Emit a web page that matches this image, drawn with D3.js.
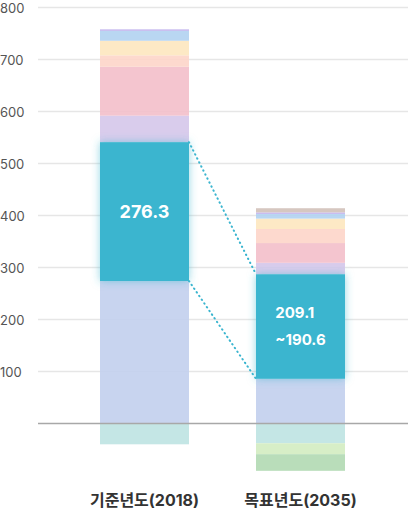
<!DOCTYPE html>
<html>
  <head>
    <meta charset="utf-8">
    <title>Stacked emissions chart</title>
    <style>
      body { margin: 0; background: #fff; }
      svg { display: block; font-family: Inter, "Noto Sans CJK KR", "Noto Sans", sans-serif; }
      .grid line { stroke: #e6e6e6; stroke-width: 1.5; }
      .tick-label { fill: #555; font-size: 13px; }
      .cat-label { fill: #333; font-size: 16px; font-weight: 700; }
      .box-label { fill: #fff; font-weight: 700; }
    </style>
  </head>
  <body>
    <div class="chart"></div>
    <script src="https://d3js.org/d3.v7.min.js"></script>
    <script>
      // Chart data
      var categories = ["기준년도(2018)", "목표년도(2035)"];
      var yTicks = [100, 200, 300, 400, 500, 600, 700, 800];

      var base     = [274, 86];
      var target   = [267, 201];
      var lavender = [51, 22];
      var pink     = [94, 38];
      var peach    = [22, 27];
      var yellow   = [28, 20];
      var skyblue  = [19, 9];
      var violet   = [3, 3];
      var tan      = [0, 8];
      var teal     = [-40, -38];
      var lime     = [0, -21];
      var green    = [0, -32];

      var targetLabels = [["276.3"], ["209.1", "~190.6"]];

      var seriesNames = ["base", "target", "lavender", "pink", "peach", "yellow",
                         "skyblue", "violet", "tan", "teal", "lime", "green"];
      var seriesValues = [base, target, lavender, pink, peach, yellow,
                          skyblue, violet, tan, teal, lime, green];
      var colors = {
        base: "#c3d0ee", target: "#3ab5cf", lavender: "#d6c8ea", pink: "#f3c0cb",
        peach: "#fdd6ca", yellow: "#fde7c0", skyblue: "#b3d2f1", violet: "#c1b3ee",
        tan: "#d3c2bb", teal: "#bfe4e3", lime: "#d4edc2", green: "#b3dab4"
      };

      // table for d3.stack
      var table = categories.map(function(c, i) {
        var row = { category: c };
        seriesNames.forEach(function(k, j) { row[k] = seriesValues[j][i]; });
        return row;
      });

      var width = 408, height = 512;
      var barWidth = 89;

      var svg = d3.select(".chart").append("svg")
        .attr("width", width)
        .attr("height", height);

      var defs = svg.append("defs");
      var glow = defs.append("filter").attr("id", "glow")
        .attr("x", "-30%").attr("y", "-30%").attr("width", "160%").attr("height", "160%");
      glow.append("feDropShadow")
        .attr("dx", 0).attr("dy", 0).attr("stdDeviation", 4)
        .attr("flood-color", "#3ab5cf").attr("flood-opacity", 0.55);

      var x = d3.scalePoint()
        .domain(categories)
        .range([144.5, 300.5]);

      var y = d3.scaleLinear()
        .domain([0, 800])
        .range([423.5, 7.5]);

      // grid + tick labels
      var grid = svg.append("g").attr("class", "grid");
      grid.selectAll("line")
        .data(yTicks)
        .enter().append("line")
        .attr("x1", 38).attr("x2", width)
        .attr("y1", function(d) { return y(d); })
        .attr("y2", function(d) { return y(d); });

      svg.append("g").selectAll("text")
        .data(yTicks)
        .enter().append("text")
        .attr("class", "tick-label")
        .attr("x", 0)
        .attr("y", function(d) { return y(d) + 0.5; })
        .attr("dy", "0.35em")
        .text(function(d) { return d; });

      var stack = d3.stack()
        .keys(seriesNames)
        .offset(d3.stackOffsetDiverging);
      var stacked = stack(table);

      // pale segments
      var layers = svg.append("g").selectAll("g")
        .data(stacked.filter(function(s) { return s.key !== "target"; }))
        .enter().append("g")
        .attr("fill", function(s) { return colors[s.key]; })
        .attr("fill-opacity", 0.92);

      layers.selectAll("rect")
        .data(function(s) { return s; })
        .enter().append("rect")
        .attr("x", function(d) { return x(d.data.category) - barWidth / 2; })
        .attr("y", function(d) { return y(Math.max(d[0], d[1])); })
        .attr("width", barWidth)
        .attr("height", function(d) { return Math.abs(y(d[0]) - y(d[1])); });

      // zero line
      svg.append("line")
        .attr("x1", 38).attr("x2", width)
        .attr("y1", y(0)).attr("y2", y(0))
        .attr("stroke", "#a8a8a8")
        .attr("stroke-width", 1.5);

      var targetLayer = stacked.filter(function(s) { return s.key === "target"; })[0];

      // dotted connectors between target boxes
      var connectors = [0, 1].map(function(edge) {
        return targetLayer.map(function(d, i) {
          var xx = x(d.data.category) + (i === 0 ? barWidth / 2 : -barWidth / 2);
          return [xx, y(edge === 0 ? d[1] : d[0])];
        });
      });
      svg.append("g").selectAll("path")
        .data(connectors)
        .enter().append("path")
        .attr("d", d3.line())
        .attr("fill", "none")
        .attr("stroke", "#3ab5cf")
        .attr("stroke-width", 2)
        .attr("stroke-linecap", "round")
        .attr("stroke-dasharray", "0.5,4");

      // highlighted target boxes
      var boxes = svg.append("g").selectAll("g")
        .data(targetLayer)
        .enter().append("g");

      boxes.append("rect")
        .attr("x", function(d) { return x(d.data.category) - barWidth / 2; })
        .attr("y", function(d) { return y(d[1]); })
        .attr("width", barWidth)
        .attr("height", function(d) { return y(d[0]) - y(d[1]); })
        .attr("fill", colors.target)
        .attr("filter", "url(#glow)");

      boxes.each(function(d, i) {
        var lines = targetLabels[i];
        var g = d3.select(this);
        var cy = (y(d[0]) + y(d[1])) / 2;
        var size = lines.length === 1 ? 18 : 15;
        var lh = 27;
        var texts = g.selectAll("text")
          .data(lines)
          .enter().append("text")
          .attr("class", "box-label")
          .style("font-size", size + "px")
          .attr("y", function(t, k) { return cy + (k - (lines.length - 1) / 2) * lh; })
          .attr("dy", "0.36em")
          .text(function(t) { return t; });
        var maxW = d3.max(texts.nodes(), function(n) { return n.getComputedTextLength(); });
        texts.attr("x", x(d.data.category) - maxW / 2);
      });

      // category labels
      svg.append("g").selectAll("text")
        .data(categories)
        .enter().append("text")
        .attr("class", "cat-label")
        .attr("x", function(d) { return x(d); })
        .attr("y", 500.5)
        .attr("dy", "0.36em")
        .attr("text-anchor", "middle")
        .text(function(d) { return d; });
    </script>
  </body>
</html>
